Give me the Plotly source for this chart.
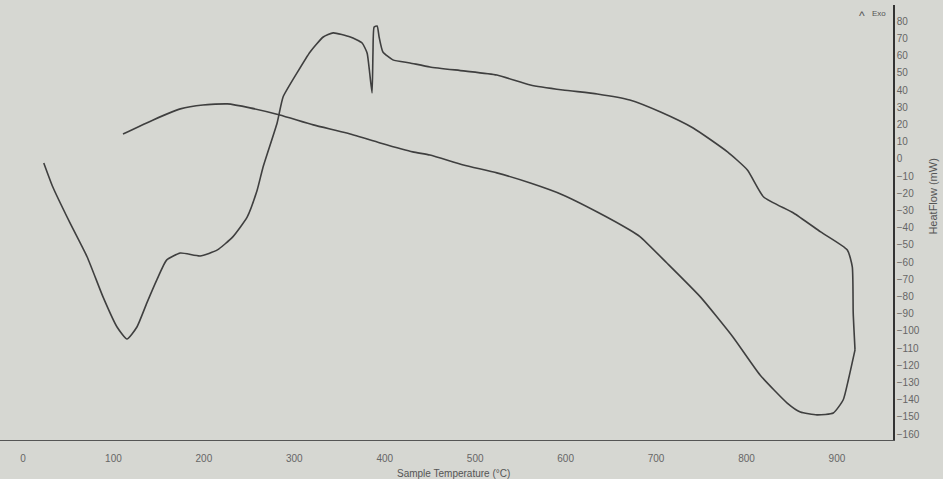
import plotly.graph_objects as go

# Heating run (temperature °C, heat flow mW)
heat_T = [23, 33, 52, 71, 88.5, 104, 115, 126, 137, 148, 159, 174, 196, 215, 232, 248, 259,
          265.5, 281, 287.6, 303, 317.5, 332, 343, 362, 375, 380.5, 383, 386, 387, 388.3, 391.6,
          393.8, 398, 409, 428, 450, 487, 524, 561, 597, 635, 671, 705, 741, 779, 801, 819,
          852, 882, 911.5, 917, 918, 920]
heat_Q = [-2.3, -16.3, -37.2, -57, -80.2, -97.7, -104.7, -97.7, -83.7, -70.3, -58.7, -54.7,
          -56.4, -52.9, -45.3, -33.7, -18, -4.7, 20.9, 36, 50, 62.2, 70.9, 73.3, 70.9, 67.4,
          61.6, 51.7, 38.4, 61.6, 76.7, 77.3, 70.9, 62.2, 57.6, 55.8, 53.5, 51.2, 48.8, 43,
          40.1, 37.8, 34.3, 27.3, 18, 4.1, -6.4, -22.1, -31.4, -42.4, -52.9, -62.8, -89.5, -111]

# Cooling run
cool_T = [920, 912.6, 907, 896, 878, 859.5, 845, 815, 785, 749, 712, 682.5, 671, 635, 597,
          561, 524, 487, 450, 431, 395, 358, 321, 284, 251, 226, 199, 174, 144, 110.6]
cool_Q = [-111, -128.5, -140, -147.7, -148.8, -147.1, -141.9, -125.6, -103.5, -80.2, -60.5,
          -45.3, -41.3, -30.8, -20.9, -14, -8.1, -3.5, 2.3, 4.1, 9.3, 15.1, 19.8, 25.6, 29.7,
          32, 31.4, 29.1, 22.7, 14.5]

x_ticks = [0, 100, 200, 300, 400, 500, 600, 700, 800, 900]
y_ticks = list(range(-160, 81, 10))

bg = "rgb(214,215,210)"
line_col = "#3f3f3f"
font_fam = "Liberation Sans Narrow, Liberation Sans, Arial"

fig = go.Figure()
fig.add_trace(go.Scatter(x=heat_T, y=heat_Q, mode="lines",
                         line=dict(color=line_col, width=1.6, shape="spline", smoothing=0.5),
                         showlegend=False))
fig.add_trace(go.Scatter(x=cool_T, y=cool_Q, mode="lines",
                         line=dict(color=line_col, width=1.6, shape="spline", smoothing=0.5),
                         showlegend=False))

fig.update_layout(
    width=943, height=479,
    margin=dict(l=0, r=50, t=5, b=39),
    paper_bgcolor=bg, plot_bgcolor=bg,
    font=dict(family=font_fam, size=10, color="#666"),
    xaxis=dict(range=[-25.4, 962], tickvals=x_ticks, showgrid=False, zeroline=False,
               showline=True, linecolor="#555", linewidth=1,
               ticks="outside", ticklen=9, tickcolor="rgba(0,0,0,0)",
               tickfont=dict(size=10, color="#666")),
    yaxis=dict(range=[-163.4, 89.5], tickvals=y_ticks, side="right", showgrid=False,
               zeroline=False, showline=True, linecolor="#333", linewidth=1.5,
               ticks="", tickfont=dict(size=10, color="#666")),
    annotations=[
        dict(text="Sample Temperature (°C)", x=476, xref="x", y=-0.078, yref="paper",
             xanchor="center", yanchor="middle", showarrow=False,
             font=dict(size=10, color="#555")),
        dict(text="HeatFlow (mW)", x=1.045, xref="paper", y=0.56, yref="paper",
             textangle=-90, showarrow=False, xanchor="center", yanchor="middle",
             font=dict(size=11, color="#555")),
        dict(text="^", x=928, xref="x", y=83, yref="y",
             showarrow=False, font=dict(size=12, color="#555")),
        dict(text="Exo", x=946, xref="x", y=84.5, yref="y", showarrow=False,
             font=dict(size=8, color="#555")),
    ],
)

fig.write_html("out.html")
